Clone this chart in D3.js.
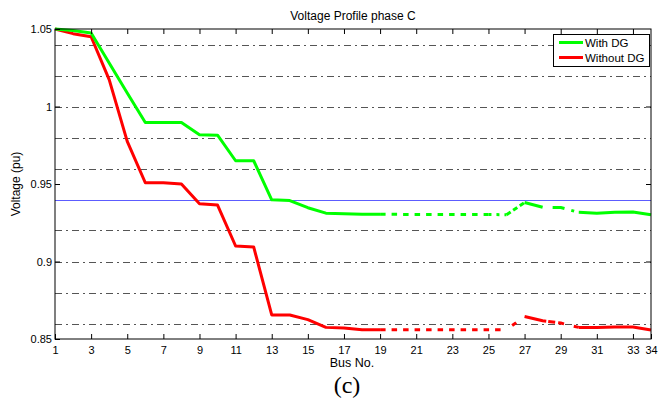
<!DOCTYPE html>
<html><head><meta charset="utf-8">
<script src="https://cdn.jsdelivr.net/npm/d3@7"></script>
<style>body{margin:0;background:#fff;} svg{display:block;font-family:"Liberation Sans",Arial,sans-serif;}</style>
</head><body>
<svg id="c" width="671" height="403"></svg>
<script>
const buses = d3.range(1, 35);
const withDG = [1.05,1.049,1.0474,1.028,1.0087,0.9897,0.9897,0.9897,0.9818,0.9815,0.965,0.965,0.9398,0.9393,0.9347,0.9312,0.9308,0.9305,0.9305,0.9304,0.9304,0.9304,0.9304,0.9303,0.9303,0.9302,0.9381,0.935,0.9348,0.9317,0.9312,0.9317,0.932,0.9302];
const withoutDG = [1.05,1.047,1.045,1.0173,0.9775,0.9508,0.9508,0.950,0.9373,0.9364,0.910,0.9094,0.8655,0.8655,0.8625,0.8575,0.8571,0.856,0.856,0.856,0.856,0.856,0.856,0.856,0.856,0.856,0.8645,0.8618,0.8603,0.8575,0.8575,0.8577,0.8577,0.8558];
const xTickVals = [1,3,5,7,9,11,13,15,17,19,21,23,25,27,29,31,33,34];
const yTickVals = [0.85,0.9,0.95,1,1.05];
const yTickLabels = ["0.85","0.9","0.95","1","1.05"];
const gridVals = [0.86,0.88,0.90,0.92,0.96,0.98,1.00,1.02,1.04];
const refLine = 0.94;
const seriesNames = ["With DG","Without DG"];
const colors = ["#00ff00","#ff0000"];

const svg = d3.select("#c");
const L=55,R=651,T=29,B=339;
const x = d3.scaleLinear().domain([1,34]).range([L,R]);
const y = d3.scaleLinear().domain([0.85,1.05]).range([B,T]);

// grid
svg.append("g").selectAll("line").data(gridVals).join("line")
  .attr("x1",L).attr("x2",R).attr("y1",d=>Math.round(y(d))+0.5).attr("y2",d=>Math.round(y(d))+0.5)
  .attr("stroke","#555").attr("stroke-width",1).attr("stroke-dasharray","7,4,2,4");
// ref line
svg.append("line").attr("x1",L).attr("x2",R).attr("y1",Math.round(y(refLine))+0.5).attr("y2",Math.round(y(refLine))+0.5)
  .attr("stroke","#5c5cff").attr("stroke-width",1);

// line segments with styles (from bus position a to b)
const segStyles = {
  green: [[1,19,null],[19,25,"5.5,6"],[25,26,"3,5"],[26,27,"5,3"],[27,28,null],[28,30,"0,10,12,7,3,10"],[30,34,null]],
  red: [[1,19,null],[19,26,"5.5,6"],[26,27,"0,7,5,6"],[27,28.2,null],[28.2,30,"0,2,7,3,6,8"],[30,34,null]]
};
const line = d3.line().x(d=>x(d[0])).y(d=>y(d[1]));
function segPoints(vals,a,b){
  const pts=[];
  const interp = t => { const i=Math.floor(t)-1; const f=t-Math.floor(t); if(f===0||i+1>=vals.length) return vals[Math.min(i,vals.length-1)]; return vals[i]+(vals[i+1]-vals[i])*f; };
  pts.push([a,interp(a)]);
  for(const bb of buses){ if(bb>a && bb<b) pts.push([bb,vals[bb-1]]); }
  pts.push([b,interp(b)]);
  return pts;
}
function drawSeries(vals,color,segs){
  const g=svg.append("g");
  segs.forEach(s=>{
    g.append("path").attr("d",line(segPoints(vals,s[0],s[1]))).attr("fill","none")
     .attr("stroke",color).attr("stroke-width",3).attr("stroke-linejoin","round")
     .attr("stroke-dasharray",s[2]);
  });
}
drawSeries(withoutDG,colors[1],segStyles.red);
drawSeries(withDG,colors[0],segStyles.green);

// frame
svg.append("rect").attr("x",L).attr("y",T).attr("width",R-L).attr("height",B-T)
  .attr("fill","none").attr("stroke","#000").attr("stroke-width",1);

// axes ticks
const xb = svg.append("g").attr("transform",`translate(0,${B})`)
  .call(d3.axisBottom(x).tickValues(xTickVals).tickSizeInner(-5).tickSizeOuter(0).tickPadding(7).tickFormat(d3.format("d")));
const xt = svg.append("g").attr("transform",`translate(0,${T})`)
  .call(d3.axisTop(x).tickValues(xTickVals.filter(v=>v!==34&&v!==1)).tickSizeInner(-5).tickSizeOuter(0).tickFormat(""));
const yl = svg.append("g").attr("transform",`translate(${L},0)`)
  .call(d3.axisLeft(y).tickValues(yTickVals).tickSizeInner(-5).tickSizeOuter(0).tickPadding(3).tickFormat((d,i)=>yTickLabels[i]));
const yr = svg.append("g").attr("transform",`translate(${R},0)`)
  .call(d3.axisRight(y).tickValues(yTickVals.filter(v=>v!==0.85&&v!==1.05)).tickSizeInner(-5).tickSizeOuter(0).tickFormat(""));
[xb,xt,yl,yr].forEach(g=>{g.select(".domain").remove(); g.selectAll("line").attr("stroke","#000");
  g.selectAll("text").attr("font-size",11).attr("font-family","Liberation Sans, Arial, sans-serif").attr("fill","#000");});

// titles
svg.append("text").attr("x",353).attr("y",20).attr("text-anchor","middle").attr("font-size",12).text("Voltage Profile phase C");
svg.append("text").attr("x",352).attr("y",367).attr("text-anchor","middle").attr("font-size",12.5).text("Bus No.");
svg.append("text").attr("transform","translate(20,184) rotate(-90)").attr("text-anchor","middle").attr("font-size",12).text("Voltage (pu)");
svg.append("text").attr("x",347).attr("y",393).attr("text-anchor","middle").attr("font-size",24)
  .attr("font-family","Liberation Serif, Times New Roman, serif").text("(c)");

// legend
const lg = svg.append("g");
lg.append("rect").attr("x",553.5).attr("y",34.5).attr("width",96).attr("height",32).attr("fill","#fff").attr("stroke","#000").attr("stroke-width",1);
seriesNames.forEach((n,i)=>{
  const yy = 42.5 + i*15;
  lg.append("line").attr("x1",559).attr("x2",583).attr("y1",yy).attr("y2",yy).attr("stroke",colors[i]).attr("stroke-width",3);
  lg.append("text").attr("x",585).attr("y",yy+4).attr("font-size",11.5).text(n);
});
</script>
</body></html>
